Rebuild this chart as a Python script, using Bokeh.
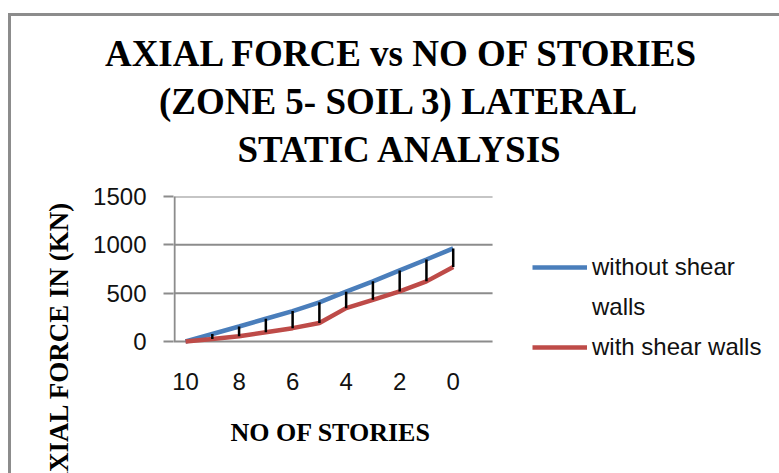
from bokeh.plotting import figure
from bokeh.models import (Range1d, FixedTicker, Legend, LegendItem, Title,
                          ColumnDataSource)
from bokeh.embed import file_html
from bokeh.resources import INLINE

# ---- data ----
stories = [10, 9, 8, 7, 6, 5, 4, 3, 2, 1, 0]
without_shear_walls = [0, 78, 155, 235, 315, 405, 515, 622, 735, 848, 963]
with_shear_walls = [0, 25, 55, 95, 138, 192, 345, 431, 518, 622, 770]
x_ticks = [10, 8, 6, 4, 2, 0]
y_ticks = [0, 500, 1000, 1500]
title_lines = ["AXIAL FORCE vs NO OF STORIES",
               "(ZONE 5- SOIL 3) LATERAL",
               "STATIC ANALYSIS"]
x_label = "NO OF STORIES"
y_label = "AXIAL FORCE IN (KN)"
series_names = ["without shear", "with shear walls"]
legend_wrap = "walls"

BLUE = "#4A7EBB"
RED = "#BE4B48"
GRAY = "#8c8c8c"
SERIF = "Liberation Serif"
SANS = "Liberation Sans"

W, H = 779, 473
ML, MR, MT, MB = 173, 0, 196, 108
# plotting area spans x 10.45 .. -1.47 and y 0 .. 1500; the frame is wider/taller
X_LEFT, X_RIGHT = 10.45, -1.47
X_END = -12.19
Y_BOTTOM = -248.3
Y_TOP = y_ticks[-1]

border_css = ("linear-gradient(#8c8c8c,#8c8c8c) 8px 13px / 3px 100% no-repeat, "
              "linear-gradient(#8c8c8c,#8c8c8c) 8px 13px / 100% 3px no-repeat, white")

p = figure(width=W, height=H, output_backend="svg", toolbar_location=None,
           x_range=Range1d(X_LEFT, X_END), y_range=Range1d(Y_BOTTOM, Y_TOP),
           min_border_left=ML, min_border_right=MR,
           min_border_top=MT, min_border_bottom=MB,
           styles={"background": border_css})
p.outline_line_color = None
p.background_fill_color = "white"
p.border_fill_alpha = 0

# axes
p.xaxis.ticker = FixedTicker(ticks=x_ticks)
p.yaxis.ticker = FixedTicker(ticks=y_ticks)
for ax in (p.xaxis, p.yaxis):
    ax.axis_line_color = None
    ax.major_tick_line_color = GRAY
    ax.major_tick_line_width = 2
    ax.minor_tick_line_color = None
    ax.major_tick_in = 0
    ax.major_label_text_font = SANS
    ax.major_label_text_font_size = "24px"
    ax.major_label_text_color = "#111111"
p.xaxis.major_tick_out = 0
p.xaxis.major_label_standoff = 7
p.yaxis.major_tick_out = 10
p.yaxis.major_label_standoff = 17
p.xgrid.grid_line_color = None
p.ygrid.grid_line_color = None

# gridlines and axis line of the plotting area
p.segment(x0=[X_LEFT] * len(y_ticks), y0=y_ticks,
          x1=[X_RIGHT] * len(y_ticks), y1=y_ticks,
          line_color=GRAY, line_width=2)
p.segment(x0=[X_LEFT - 0.04], y0=[0], x1=[X_LEFT - 0.04], y1=[Y_TOP],
          line_color=GRAY, line_width=2)

src = ColumnDataSource(dict(x=stories, a=without_shear_walls, b=with_shear_walls))
r1 = p.line("x", "a", source=src, line_color=BLUE, line_width=4.5)
r2 = p.line("x", "b", source=src, line_color=RED, line_width=4.5)
p.segment(x0="x", y0="a", x1="x", y1="b", source=src,
          line_color="black", line_width=2.5)

legend = Legend(items=[LegendItem(label=series_names[0], renderers=[r1]),
                       LegendItem(label=legend_wrap, renderers=[]),
                       LegendItem(label=series_names[1], renderers=[r2])],
                location=(359, 4), orientation="vertical",
                glyph_width=55, glyph_height=28, label_height=28,
                label_standoff=5, spacing=12, padding=0, margin=0,
                border_line_color=None, background_fill_alpha=0,
                label_text_font=SANS, label_text_font_size="24px",
                label_text_color="#111111")
p.add_layout(legend, "center")

# x-axis title below the tick labels
p.add_layout(Title(text=x_label, align="left", offset=57, standoff=46,
                   text_font=SERIF, text_font_style="bold",
                   text_font_size="26px", text_color="black"), "below")

# spacer between the frame and the title block
p.add_layout(Title(text=" ", standoff=21, text_font_size="1px"), "above")
em = [16.085, 13.057, 9.029]
centres = [402, 400, 404]
FS = 37
for i in (2, 1, 0):
    w = em[i] * FS
    p.add_layout(Title(text=title_lines[i], align="left",
                       offset=centres[i] - w / 2 - ML, standoff=5,
                       text_font=SERIF, text_font_style="bold",
                       text_font_size=f"{FS}px", text_color="black"), "above")

# y-axis title
p.add_layout(Title(text=y_label, align="left", offset=-126, standoff=34,
                   text_font=SERIF, text_font_style="bold",
                   text_font_size="27px", text_color="black"), "left")

open("out.html", "w").write(file_html(p, INLINE))
